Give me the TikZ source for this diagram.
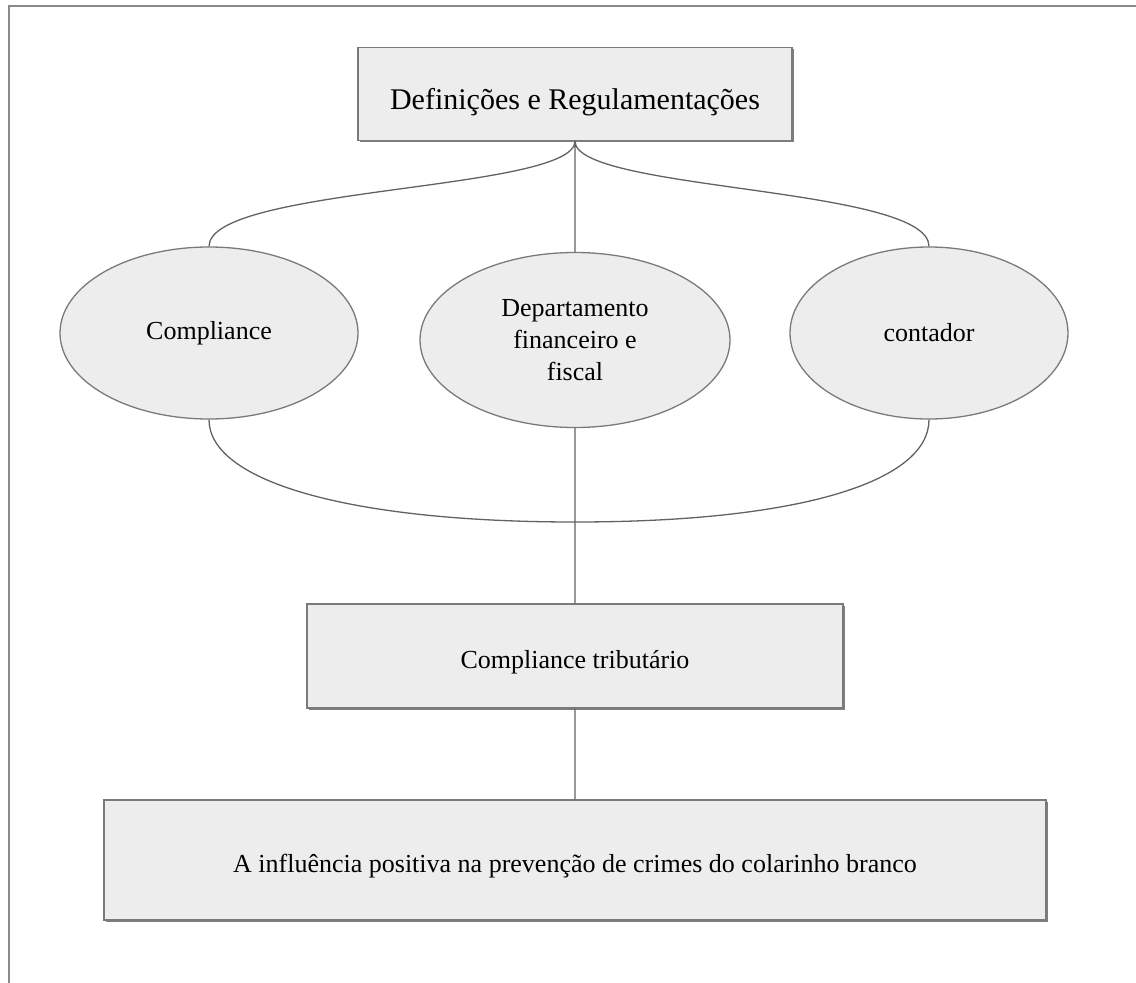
\documentclass[tikz,border=0pt]{standalone}
\usepackage{fontspec}
\setmainfont{Liberation Serif}
\usetikzlibrary{shapes.geometric,shadows,positioning}

\definecolor{boxfill}{HTML}{EDEDED}
\definecolor{boxline}{HTML}{7A7A7A}
\definecolor{frameline}{HTML}{8A8A8A}

\tikzset{
	box/.style={rectangle,draw=boxline,fill=boxfill,line width=1.3pt,inner sep=0pt,
		drop shadow={shadow xshift=1.6pt,shadow yshift=-1.6pt,fill=black!50,opacity=1},
		font=\fontsize{26}{32}\selectfont,text height=27pt,text depth=2pt},
	oval/.style={ellipse,draw=boxline,fill=boxfill,line width=1.3pt,inner sep=0pt,
		align=center,font=\fontsize{26}{32}\selectfont},
	link/.style={draw=boxline!80!black,line width=1.3pt}
}

\begin{document}
\begin{tikzpicture}[x=1pt,y=-1pt]
			\useasboundingbox (0,0) rectangle (1136,983);
			\draw[frameline,line width=2pt] (9,983) |- (1136,6);
			% boxes and ellipses
			\node[box,minimum width=434pt,minimum height=93pt,font=\fontsize{30}{36}\selectfont,text height=34pt,text depth=2.5pt] (defs) at (575,94) {Definições e Regulamentações};
			\node[oval,minimum width=298pt,minimum height=172pt] (compl) at (209,333) {Compliance};
			\node[oval,minimum width=310pt,minimum height=175pt] (dept) at (575,340) {Departamento\\financeiro e\\fiscal};
			\node[oval,minimum width=278pt,minimum height=172pt] (cont) at (929,333) {contador};
			\node[box,minimum width=536pt,minimum height=104pt] (trib) at (575,656) {Compliance tributário};
			\node[box,minimum width=942pt,minimum height=120pt] (infl) at (575,860) {A influência positiva na prevenção de crimes do colarinho branco};
			\coordinate (join) at (575,522);
			% connectors
			\path[link]
				(defs.south) .. controls +(0,50) and +(0,-60) .. (compl.north)
				(defs.south) -- (dept.north)
				(defs.south) .. controls +(0,50) and +(0,-60) .. (cont.north)
				(compl.south) .. controls +(0,62) and +(-225,0) .. (join)
				(join) .. controls +(225,0) and +(0,62) .. (cont.south)
				(dept.south) -- (trib.north)
				(trib.south) -- (infl.north);
		\end{tikzpicture}
\end{document}
